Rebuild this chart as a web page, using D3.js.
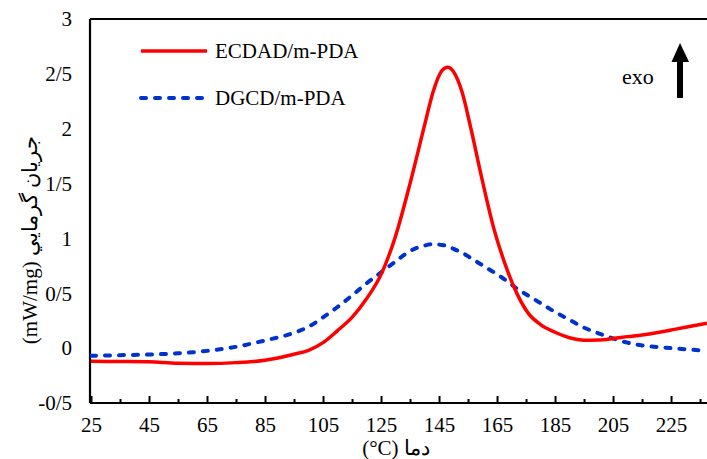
<!DOCTYPE html>
<html>
<head>
<meta charset="utf-8">
<script src="https://cdn.jsdelivr.net/npm/d3@7"></script>
<style>
  html, body { margin: 0; padding: 0; background: #fff; }
  svg { display: block; }
  text { font-family: "Liberation Serif", "Times New Roman", serif; fill: #000; }
</style>
</head>
<body>
<svg id="chart" width="707" height="459"></svg>
<script>
// ---- data ----
const temperatures = [25, 35, 45, 55, 65, 75, 85, 95, 100, 105, 110, 115, 120, 125, 130, 135, 140, 143, 146, 148, 150, 153, 156, 160, 164, 168, 172, 176, 180, 185, 190, 195, 200, 205, 210, 215, 220, 225, 230, 237.4];
const ecdad = [-0.12, -0.122, -0.125, -0.138, -0.14, -0.132, -0.11, -0.055, -0.02, 0.05, 0.16, 0.28, 0.45, 0.67, 1.02, 1.5, 2.03, 2.34, 2.53, 2.56, 2.52, 2.33, 2.0, 1.52, 1.08, 0.75, 0.49, 0.31, 0.215, 0.145, 0.095, 0.073, 0.075, 0.088, 0.105, 0.12, 0.14, 0.165, 0.19, 0.228];
const dgcd = [-0.07, -0.064, -0.058, -0.047, -0.025, 0.012, 0.07, 0.14, 0.195, 0.28, 0.375, 0.48, 0.59, 0.69, 0.79, 0.885, 0.935, 0.948, 0.94, 0.93, 0.905, 0.87, 0.82, 0.755, 0.69, 0.62, 0.54, 0.475, 0.41, 0.33, 0.258, 0.187, 0.135, 0.088, 0.05, 0.025, 0.01, 0.0, -0.01, -0.025];
const seriesNames = ["ECDAD/m-PDA", "DGCD/m-PDA"];
const seriesColors = ["#ff0000", "#0033cc"];
const xTicksMajor = [25, 45, 65, 85, 105, 125, 145, 165, 185, 205, 225];
const xTicksMinor = [35, 55, 75, 95, 115, 135, 155, 175, 195, 215, 235];
const yTicks = [-0.5, 0, 0.5, 1, 1.5, 2, 2.5, 3];
const xTitle = "(°C) دما";
const yTitle = "(mW/mg) جريان گرمايي";
const exoLabel = "exo";

// ---- layout ----
const svg = d3.select("#chart");
const pLeft = 90, pRight = 707, pTop = 19, pBottom = 403;
const x = d3.scaleLinear().domain([25, 237.4]).range([91, pRight]);
const y = d3.scaleLinear().domain([-0.5, 3]).range([pBottom, pTop]);
const fmt = d => String(d).replace(".", "/");

svg.append("clipPath").attr("id", "clip")
  .append("rect").attr("x", pLeft).attr("y", pTop).attr("width", pRight - pLeft).attr("height", pBottom - pTop);

// frame top line
svg.append("line").attr("x1", pLeft).attr("x2", pRight).attr("y1", pTop).attr("y2", pTop)
  .attr("stroke", "#000").attr("stroke-width", 2);

// minor ticks
const gMinor = svg.append("g").attr("transform", `translate(0,${pBottom})`)
  .call(d3.axisBottom(x).tickValues(xTicksMinor).tickSizeInner(-4).tickSizeOuter(0).tickFormat(""));
gMinor.select(".domain").remove();
gMinor.selectAll("line").attr("stroke-width", 2);

// major ticks + labels
const gx = svg.append("g").attr("transform", `translate(0,${pBottom})`)
  .call(d3.axisBottom(x).tickValues(xTicksMajor).tickSizeInner(-7).tickSizeOuter(0).tickPadding(14).tickFormat(d => d));
gx.select(".domain").attr("stroke-width", 2.2).attr("d", `M${pLeft},0H${pRight}`);
gx.selectAll("line").attr("stroke-width", 2);
gx.selectAll("text").style("font-size", "21px").style("font-family", '"Liberation Serif", serif');

const gy = svg.append("g").attr("transform", `translate(${pLeft},0)`)
  .call(d3.axisLeft(y).tickValues(yTicks).tickSize(0).tickPadding(18).tickFormat(fmt));
gy.select(".domain").attr("stroke-width", 2.2).attr("d", `M0,${pTop}V${pBottom}`);
gy.selectAll("text").style("font-size", "21px").style("font-family", '"Liberation Serif", serif');

// lines
const line = d3.line().x((d, i) => x(temperatures[i])).y(d => y(d)).curve(d3.curveMonotoneX);
const plot = svg.append("g").attr("clip-path", "url(#clip)");
plot.append("path").datum(dgcd).attr("d", line).attr("fill", "none")
  .attr("stroke", seriesColors[1]).attr("stroke-width", 4).attr("stroke-dasharray", "5,9").attr("stroke-linecap", "round");
plot.append("path").datum(ecdad).attr("d", line).attr("fill", "none")
  .attr("stroke", seriesColors[0]).attr("stroke-width", 3.5).attr("stroke-linejoin", "round");

// legend
const legY = [51, 98];
seriesNames.forEach((name, i) => {
  const l = svg.append("line").attr("x1", 141).attr("x2", 207).attr("y1", legY[i]).attr("y2", legY[i])
    .attr("stroke", seriesColors[i]).attr("stroke-width", i === 0 ? 3.5 : 4);
  if (i === 1) l.attr("stroke-dasharray", "5,9").attr("stroke-linecap", "round");
  svg.append("text").attr("x", 215).attr("y", legY[i] + 7).style("font-size", "21px").text(name);
});

// exo arrow
svg.append("text").attr("x", 622).attr("y", 84).style("font-size", "22px").text(exoLabel);
svg.append("line").attr("x1", 680).attr("x2", 680).attr("y1", 98).attr("y2", 60)
  .attr("stroke", "#000").attr("stroke-width", 6);
svg.append("path").attr("d", "M671.5,62L689,62L680,43Z").attr("fill", "#000");

// axis titles
svg.append("text").attr("x", 396).attr("y", 455).attr("text-anchor", "middle")
  .style("font-size", "21px").text(xTitle);
svg.append("text").attr("transform", "translate(37,240) rotate(-90)").attr("text-anchor", "middle")
  .style("font-size", "21px").text(yTitle);
</script>
</body>
</html>
